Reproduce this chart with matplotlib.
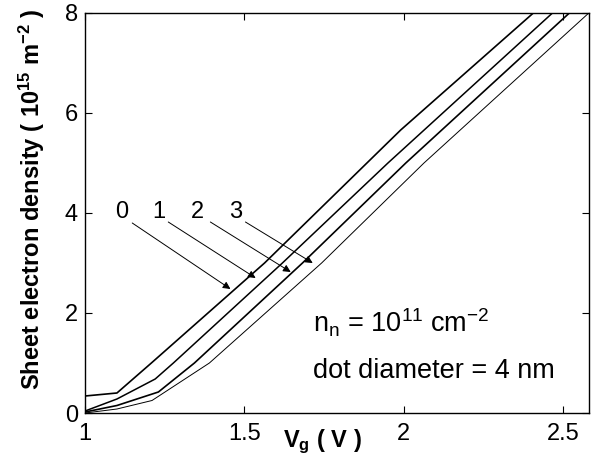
import matplotlib
matplotlib.use("Agg")
import matplotlib.pyplot as plt

plt.rcParams['font.family'] = ['Liberation Sans', 'DejaVu Sans']
plt.rcParams['mathtext.fontset'] = 'custom'
plt.rcParams['mathtext.rm'] = 'Liberation Sans'
plt.rcParams['mathtext.it'] = 'Liberation Sans:italic'
plt.rcParams['mathtext.bf'] = 'Liberation Sans:bold'
plt.rcParams['mathtext.default'] = 'regular'

# Data
vg0 = [1.0, 1.1, 1.208, 1.563, 1.99, 2.406]
n0 = [0.34, 0.40, 1.0, 3.0, 5.66, 8.0]
vg1 = [1.0, 1.1, 1.22, 1.277, 1.619, 1.95, 2.466]
n1 = [0.04, 0.28, 0.68, 1.0, 3.0, 5.0, 8.0]
vg2 = [1.0, 1.1, 1.23, 1.343, 1.682, 2.006, 2.519]
n2 = [0.02, 0.15, 0.42, 1.0, 3.0, 5.0, 8.0]
vg3 = [1.0, 1.1, 1.21, 1.39, 1.742, 2.063, 2.58]
n3 = [0.0, 0.08, 0.25, 1.0, 3.0, 5.0, 8.0]

curve_labels = ['0', '1', '2', '3']
label_x = [1.116, 1.23, 1.352, 1.472]
label_y = 4.02
arrow_start_x = [1.148, 1.261, 1.393, 1.503]
arrow_start_y = [3.80, 3.82, 3.82, 3.82]
arrow_end_x = [1.456, 1.535, 1.645, 1.714]
arrow_end_y = [2.48, 2.70, 2.82, 3.00]

xticks = [1, 1.5, 2, 2.5]
xticklabels = ['1', '1.5', '2', '2.5']
yticks = [0, 2, 4, 6, 8]

fig = plt.figure(figsize=(5.99, 4.69), dpi=100)
ax = fig.add_axes([0.142, 0.1194, 0.841, 0.8529])

ax.plot(vg0, n0, color='black', lw=1.2)
ax.plot(vg1, n1, color='black', lw=1.1)
ax.plot(vg2, n2, color='black', lw=1.2)
ax.plot(vg3, n3, color='black', lw=0.7)

for lab, lx in zip(curve_labels, label_x):
    ax.text(lx, label_y, lab, fontsize=17, ha='center', va='center')
for sx, sy, ex, ey in zip(arrow_start_x, arrow_start_y, arrow_end_x, arrow_end_y):
    ax.annotate('', xy=(ex, ey), xytext=(sx, sy),
                arrowprops=dict(arrowstyle='-|>', color='black', lw=0.7,
                                mutation_scale=11, shrinkA=0, shrinkB=0))

ax.text(1.714, 1.6, r'n$_n$ = 10$^{11}$ cm$^{-2}$', fontsize=19.5, ha='left', va='baseline')
ax.text(1.714, 0.7, 'dot diameter = 4 nm', fontsize=19.5, ha='left', va='baseline')

ax.set_xlim(1, 2.58)
ax.set_ylim(0, 8)
ax.set_xticks(xticks)
ax.set_xticklabels(xticklabels)
ax.set_yticks(yticks)
ax.tick_params(direction='in', length=5, width=0.8, top=True, right=True,
               labelsize=17, pad=7)
ax.tick_params(axis='y', pad=5)
for s in ax.spines.values():
    s.set_linewidth(1.0)

ax.text(0.472, -0.085, r'V$_g$ ( V )', transform=ax.transAxes, fontsize=17,
        fontweight='bold', ha='center', va='baseline')
ax.set_ylabel(r'Sheet electron density ( 10$^{15}$ m$^{-2}$ )', fontsize=17,
              fontweight='bold')
ax.yaxis.set_label_coords(-0.076, 0.535)

fig.savefig('out.png', dpi=100)
